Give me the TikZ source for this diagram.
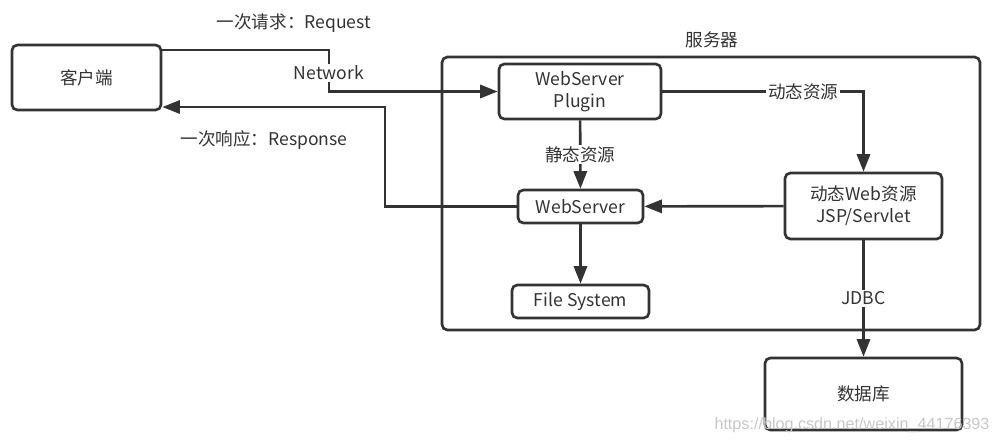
\documentclass[tikz,border=0pt]{standalone}
\usepackage{fontspec}
\setmainfont{Noto Sans CJK SC}
\newfontfamily\markfont{Liberation Sans}
\usetikzlibrary{arrows.meta,positioning,calc}
\definecolor{ink}{HTML}{333333}

\begin{document}
\begin{tikzpicture}[x=0.02cm, y=-0.02cm, >={Triangle[length=10pt,width=7.5pt]}, line width=1.5pt, draw=ink, text=ink, font=\fontsize{10}{12.5}\selectfont]
\tikzstyle{box}=[draw, rounded corners=3pt, fill=white, align=center, inner sep=0pt]
\tikzstyle{lbl}=[fill=white, inner sep=1pt]
\useasboundingbox (0,0) rectangle (994,447);
\node[box, minimum width=10.76cm, minimum height=5.46cm] (server) at (711,193.5) {};
\node (servername) at (712,40) {服务器};
\node[box, minimum width=2.98cm, minimum height=1.30cm] (client)  at (86.5,77.5) {客户端};
\node[box, minimum width=3.24cm, minimum height=1.10cm] (plugin)  at (580,91.5)  {WebServer\\Plugin};
\node[box, minimum width=2.50cm, minimum height=0.66cm] (websrv)  at (580.5,206.5) {WebServer};
\node[box, minimum width=2.74cm, minimum height=0.66cm] (filesys) at (580.5,301.5) {File System};
\node[box, minimum width=3.14cm, minimum height=1.32cm] (dynweb)  at (863.5,206) {动态Web资源\\JSP/Servlet};
\node[box, minimum width=3.94cm, minimum height=1.44cm] (db)      at (863.5,394) {数据库};
\node (req)  at (294,23)  {一次请求：Request};
\node (resp) at (264,140) {一次响应：Response};
\coordinate (reqbend)  at (329,50);
\coordinate (respbend) at (385,107);
\draw[->] (client.east |- reqbend) -- (reqbend) -- node[lbl, pos=0.55]{Network} (reqbend |- plugin.west) -- (plugin.west);
\draw[->] (websrv.west) -| (respbend) -- (client.east |- respbend);
\draw[->] (plugin.east) -| node[lbl, pos=0.35]{动态资源} (dynweb.north);
\path[->]
(plugin)  edge node[lbl]{静态资源} (websrv)
(dynweb)  edge (websrv)
          edge node[lbl]{JDBC} (db)
(websrv)  edge (filesys);
\node[text=black!22, font=\markfont\fontsize{9.2}{11}\selectfont] (mark) at (852,425) {https://blog.csdn.net/weixin\_44176393};
\end{tikzpicture}
\end{document}
